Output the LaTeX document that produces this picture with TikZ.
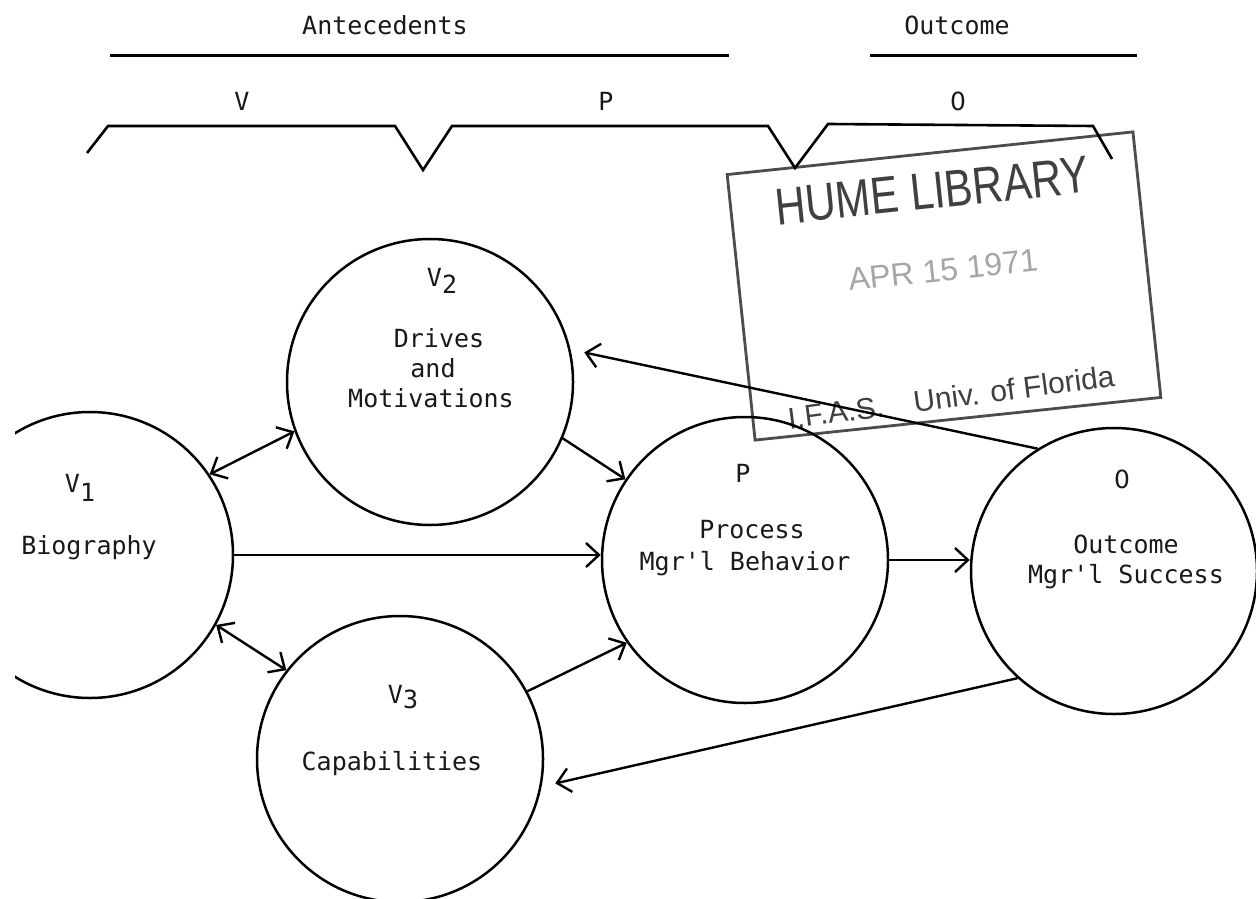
\documentclass[tikz,border=0pt]{standalone}
\usepackage{fontspec}
\setmonofont{DejaVu Sans Mono}
\newfontfamily\zerofont{DejaVu Sans}
\newfontfamily\stampfont{Liberation Sans}
\usetikzlibrary{arrows.meta}
\begin{document}
\begin{tikzpicture}[x=0.5pt,y=-0.5pt,
  circ/.style={circle,draw,line width=1.25pt,minimum size=143pt,inner sep=0pt},
  lbl/.style={font=\ttfamily\fontsize{12.5}{15}\selectfont,text=black!90,inner sep=0pt,anchor=base},
  conn/.style={line width=1.2pt,-{Straight Barb[length=6.5pt,width=12pt]}},
  both/.style={line width=1.2pt,{Straight Barb[length=6.5pt,width=12pt]}-{Straight Barb[length=6.5pt,width=12pt]}},
  rulerline/.style={line width=1.5pt},
  bracketline/.style={line width=1.3pt},
  stampbox/.style={draw=black!70,line width=1.4pt,rotate=6,minimum width=204pt,minimum height=133.5pt,inner sep=0pt},
  stamptext/.style={text=black!75,inner sep=0pt},
  ]
\fill[white] (0,0) rectangle (1256,898);
\useasboundingbox (0,0) rectangle (1256,898);

% stamp
\node[stampbox] (stamp) at (944,286) {};
\node[stamptext,font=\stampfont\fontsize{26}{28}\selectfont,rotate=6,xscale=0.81] (hume) at (932,191) {HUME LIBRARY};
\node[stamptext,text=black!35,font=\stampfont\fontsize{16}{18}\selectfont,rotate=6] (date) at (943,270) {APR 15 1971};
\node[stamptext,font=\stampfont\fontsize{15}{17}\selectfont,rotate=7.5] (ifas) at (951,397) {I.F.A.S.\quad Univ. of Florida};

% top headings
\node[lbl] (antec) at (385,35) {Antecedents};
\draw[rulerline] (110,56) -- (729,56);
\node[lbl] (outc) at (957,35) {Outcome};
\draw[rulerline] (870,56) -- (1137,56);
\node[lbl] (gV) at (242,111) {V};
\node[lbl] (gP) at (606,111) {P};
\node[lbl] (gO) at (958,111) {\zerofont 0};
\draw[bracketline] (87,153) -- (108,126) -- (395,126) -- (423,170) -- (452,126)
  -- (768,126) -- (795,168) -- (828,124) -- (1093,126) -- (1112,159);

% circles
\begin{scope}
\clip (15,0) rectangle (1256,898);
\node[circ] (V1) at (90,555) {};
\end{scope}
\node[circ] (V2) at (430,382) {};
\node[circ] (V3) at (400,759) {};
\node[circ] (P) at (745,560) {};
\node[circ] (O) at (1114,571) {};

% labels
\node[lbl] (t1a) at (80,492) {V\raisebox{-4.5pt}{1}};
\node[lbl] (t1b) at (89,554) {Biography};
\node[lbl] (t2a) at (442,287) {V\raisebox{-3pt}{2}};
\node[lbl] (t2b) at (439,347) {Drives};
\node[lbl] (t2c) at (433,377) {and};
\node[lbl] (t2d) at (431,407) {Motivations};
\node[lbl] (t3a) at (403,703) {V\raisebox{-2.5pt}{3}};
\node[lbl] (t3b) at (392,770) {Capabilities};
\node[lbl] (tPa) at (743,482) {P};
\node[lbl] (tPb) at (752,538) {Process};
\node[lbl] (tPc) at (745,570) {Mgr'l Behavior};
\node[lbl] (tOa) at (1122,488) {\zerofont 0};
\node[lbl] (tOb) at (1126,553) {Outcome};
\node[lbl] (tOc) at (1126,583) {Mgr'l Success};

% connectors
\draw[both] (V1.34) -- (V2.200);
\draw[both] (V1.-29) -- (V3.142);
\draw[conn] (V1.east) -- (V1.east -| P.west);
\draw[conn] (V2.-23) -- (P.146);
\draw[conn] (V3.28) -- (P.215);
\draw[conn] (P.east) -- (P.east -| O.west);
\draw[conn,shorten >=7pt] (O.122) -- (V2.13);
\draw[conn,shorten >=7pt] (O.228) -- (V3.-11);
\end{tikzpicture}
\end{document}
